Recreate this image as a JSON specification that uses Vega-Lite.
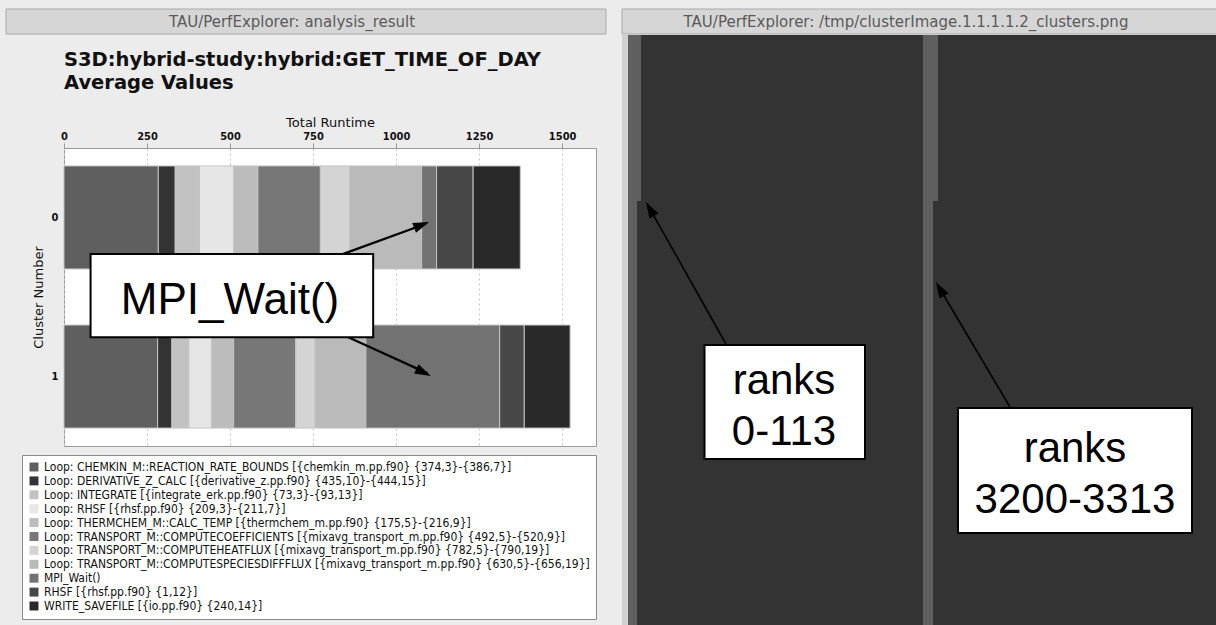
{
  "$schema": "https://vega.github.io/schema/vega-lite/v6.json",
  "background": "#ececec",
  "padding": {"left": 5, "top": 8, "right": 0, "bottom": 0},
  "config": {
    "font": "DejaVu Sans",
    "view": {"stroke": null}
  },
  "spacing": 14,
  "resolve": {"scale": {"color": "independent", "x": "independent", "y": "independent"}, "legend": {"color": "independent"}},
  "hconcat": [
    {
      "concat": [
        {
          "width": 542,
          "height": 25,
          "data": {"values": [{"t": "TAU/PerfExplorer: analysis_result", "x0": -58, "x1": 542, "xc": 228}]},
          "layer": [
            {
              "mark": {"type": "rect", "fill": "#d6d6d6", "stroke": "#a8a8a8", "strokeWidth": 1},
              "encoding": {
                "x": {"field": "x0", "type": "quantitative", "axis": null, "scale": {"domain": [0, 542], "nice": false, "zero": false}},
                "x2": {"field": "x1"}
              }
            },
            {
              "mark": {"type": "text", "font": "DejaVu Sans", "fontSize": 15, "color": "#5a5a5a", "baseline": "middle", "align": "center"},
              "encoding": {
                "x": {"field": "xc", "type": "quantitative", "axis": null},
                "text": {"field": "t"}
              }
            }
          ]
        },
        {
          "width": 532,
          "height": 298,
          "view": {"fill": "white", "stroke": "#9a9a9a"},
          "title": {
            "text": ["S3D:hybrid-study:hybrid:GET_TIME_OF_DAY", "Average Values"],
            "anchor": "start",
            "frame": "group",
            "font": "DejaVu Sans",
            "fontSize": 19.5,
            "fontWeight": "bold",
            "color": "#111111",
            "lineHeight": 23,
            "offset": 23
          },
          "layer": [
            {
              "data": {"values": [
                {"cluster": 0, "series": "Loop: CHEMKIN_M::REACTION_RATE_BOUNDS [{chemkin_m.pp.f90} {374,3}-{386,7}]", "time": 284},
                {"cluster": 0, "series": "Loop: DERIVATIVE_Z_CALC [{derivative_z.pp.f90} {435,10}-{444,15}]", "time": 51},
                {"cluster": 0, "series": "Loop: INTEGRATE [{integrate_erk.pp.f90} {73,3}-{93,13}]", "time": 73},
                {"cluster": 0, "series": "Loop: RHSF [{rhsf.pp.f90} {209,3}-{211,7}]", "time": 103},
                {"cluster": 0, "series": "Loop: THERMCHEM_M::CALC_TEMP [{thermchem_m.pp.f90} {175,5}-{216,9}]", "time": 73},
                {"cluster": 0, "series": "Loop: TRANSPORT_M::COMPUTECOEFFICIENTS [{mixavg_transport_m.pp.f90} {492,5}-{520,9}]", "time": 188},
                {"cluster": 0, "series": "Loop: TRANSPORT_M::COMPUTEHEATFLUX [{mixavg_transport_m.pp.f90} {782,5}-{790,19}]", "time": 88},
                {"cluster": 0, "series": "Loop: TRANSPORT_M::COMPUTESPECIESDIFFFLUX [{mixavg_transport_m.pp.f90} {630,5}-{656,19}]", "time": 217},
                {"cluster": 0, "series": "MPI_Wait()", "time": 45},
                {"cluster": 0, "series": "RHSF [{rhsf.pp.f90} {1,12}]", "time": 110},
                {"cluster": 0, "series": "WRITE_SAVEFILE [{io.pp.f90} {240,14}]", "time": 142},
                {"cluster": 1, "series": "Loop: CHEMKIN_M::REACTION_RATE_BOUNDS [{chemkin_m.pp.f90} {374,3}-{386,7}]", "time": 282},
                {"cluster": 1, "series": "Loop: DERIVATIVE_Z_CALC [{derivative_z.pp.f90} {435,10}-{444,15}]", "time": 43},
                {"cluster": 1, "series": "Loop: INTEGRATE [{integrate_erk.pp.f90} {73,3}-{93,13}]", "time": 51},
                {"cluster": 1, "series": "Loop: RHSF [{rhsf.pp.f90} {209,3}-{211,7}]", "time": 68},
                {"cluster": 1, "series": "Loop: THERMCHEM_M::CALC_TEMP [{thermchem_m.pp.f90} {175,5}-{216,9}]", "time": 67},
                {"cluster": 1, "series": "Loop: TRANSPORT_M::COMPUTECOEFFICIENTS [{mixavg_transport_m.pp.f90} {492,5}-{520,9}]", "time": 187},
                {"cluster": 1, "series": "Loop: TRANSPORT_M::COMPUTEHEATFLUX [{mixavg_transport_m.pp.f90} {782,5}-{790,19}]", "time": 58},
                {"cluster": 1, "series": "Loop: TRANSPORT_M::COMPUTESPECIESDIFFFLUX [{mixavg_transport_m.pp.f90} {630,5}-{656,19}]", "time": 153},
                {"cluster": 1, "series": "MPI_Wait()", "time": 403},
                {"cluster": 1, "series": "RHSF [{rhsf.pp.f90} {1,12}]", "time": 74},
                {"cluster": 1, "series": "WRITE_SAVEFILE [{io.pp.f90} {240,14}]", "time": 138}
              ]},
              "transform": [
                {"stack": "time", "groupby": ["cluster"], "sort": [{"field": "series", "order": "ascending"}], "as": ["t0", "t1"]}
              ],
              "mark": {"type": "bar", "orient": "horizontal", "height": 103, "stroke": "#c4c4c4", "strokeWidth": 1},
              "encoding": {
                "x": {
                  "field": "t0", "type": "quantitative", "title": "Total Runtime",
                  "scale": {"domain": [0, 1602], "nice": false, "zero": false},
                  "axis": {
                    "orient": "top", "values": [0, 250, 500, 750, 1000, 1250, 1500],
                    "format": "d", "grid": true, "gridColor": "#c8c8c8", "gridDash": [2, 3],
                    "domainColor": "#9a9a9a", "tickColor": "#9a9a9a", "tickSize": 5,
                    "labelFont": "DejaVu Sans Condensed", "labelFontWeight": "bold", "labelFontSize": 11, "labelColor": "#111",
                    "labelPadding": 2, "labelFlush": false,
                    "titleFont": "DejaVu Sans", "titleFontWeight": "normal", "titleFontSize": 13, "titleColor": "#111", "titlePadding": 1
                  }
                },
                "x2": {"field": "t1"},
                "y": {
                  "field": "cluster", "type": "quantitative", "title": "Cluster Number",
                  "scale": {"domain": [-0.405, 1.405], "nice": false, "zero": false, "reverse": true},
                  "axis": {
                    "values": [0, 1], "format": "d", "grid": false, "domain": false, "ticks": false,
                    "labelFont": "DejaVu Sans Condensed", "labelFontWeight": "bold", "labelFontSize": 11, "labelColor": "#111", "labelPadding": 6,
                    "titleFont": "DejaVu Sans", "titleFontWeight": "normal", "titleFontSize": 13, "titleColor": "#111", "titlePadding": 6
                  }
                },
                "color": {
                  "field": "series", "type": "nominal",
                  "scale": {"range": ["#5f5f5f", "#333333", "#c2c2c2", "#e6e6e6", "#bcbcbc", "#777777", "#d4d4d4", "#bababa", "#727272", "#474747", "#292929"]},
                  "legend": {
                    "orient": "none", "legendX": -42, "legendY": 307, "title": null,
                    "symbolType": "square", "symbolSize": 80, "symbolStrokeWidth": 0,
                    "labelFont": "DejaVu Sans Condensed", "labelFontSize": 12, "labelColor": "#111", "labelLimit": 600,
                    "rowPadding": 1.9, "padding": 6, "strokeColor": "#8a8a8a", "fillColor": "white"
                  }
                }
              }
            },
            {
              "data": {"values": [
                {"x": 841, "y": 0.229, "x2": 1090, "y2": 0.04},
                {"x": 856, "y": 0.753, "x2": 1095, "y2": 0.98}
              ]},
              "mark": {"type": "rule", "color": "black", "strokeWidth": 2.2},
              "encoding": {
                "x": {"field": "x", "type": "quantitative", "title": "Total Runtime"},
                "y": {"field": "y", "type": "quantitative", "title": "Cluster Number"},
                "x2": {"field": "x2"},
                "y2": {"field": "y2"}
              }
            },
            {
              "data": {"values": [{"x": 1077, "y": 0.047}]},
              "mark": {"type": "point", "shape": "M0,-1L0.65,1L-0.65,1Z", "filled": true, "color": "black", "opacity": 1, "size": 260, "angle": 69},
              "encoding": {
                "x": {"field": "x", "type": "quantitative", "title": "Total Runtime"},
                "y": {"field": "y", "type": "quantitative", "title": "Cluster Number"}
              }
            },
            {
              "data": {"values": [{"x": 1083, "y": 0.974}]},
              "mark": {"type": "point", "shape": "M0,-1L0.65,1L-0.65,1Z", "filled": true, "color": "black", "opacity": 1, "size": 260, "angle": 116},
              "encoding": {
                "x": {"field": "x", "type": "quantitative", "title": "Total Runtime"},
                "y": {"field": "y", "type": "quantitative", "title": "Cluster Number"}
              }
            },
            {
              "data": {"values": [{"label": "MPI_Wait()", "x0": 80, "x1": 931, "y0": 0.229, "y1": 0.753, "tx": 500, "ty": 0.607}]},
              "layer": [
                {
                  "mark": {"type": "rect", "fill": "white", "stroke": "black", "strokeWidth": 2},
                  "encoding": {
                    "x": {"field": "x0", "type": "quantitative", "title": "Total Runtime"},
                    "x2": {"field": "x1"},
                    "y": {"field": "y0", "type": "quantitative", "title": "Cluster Number"},
                    "y2": {"field": "y1"}
                  }
                },
                {
                  "mark": {"type": "text", "font": "Liberation Sans", "fontSize": 44, "color": "black", "align": "center", "baseline": "alphabetic"},
                  "encoding": {
                    "x": {"field": "tx", "type": "quantitative", "title": "Total Runtime"},
                    "y": {"field": "ty", "type": "quantitative", "title": "Cluster Number"},
                    "text": {"field": "label"}
                  }
                }
              ]
            }
          ]
        }
      ],
      "columns": 1,
      "align": "none",
      "spacing": 14,
      "resolve": {"scale": {"color": "independent", "x": "independent", "y": "independent"}, "legend": {"color": "independent"}}
    },
    {
      "concat": [
        {
          "width": 595,
          "height": 25,
          "data": {"values": [{"t": "TAU/PerfExplorer: /tmp/clusterImage.1.1.1.1.2_clusters.png", "x0": 0, "x1": 595, "xc": 284}]},
          "layer": [
            {
              "mark": {"type": "rect", "fill": "#d6d6d6", "stroke": "#a8a8a8", "strokeWidth": 1},
              "encoding": {
                "x": {"field": "x0", "type": "quantitative", "axis": null, "scale": {"domain": [0, 595], "nice": false, "zero": false}},
                "x2": {"field": "x1"}
              }
            },
            {
              "mark": {"type": "text", "font": "DejaVu Sans", "fontSize": 15, "color": "#5a5a5a", "baseline": "middle", "align": "center"},
              "encoding": {
                "x": {"field": "xc", "type": "quantitative", "axis": null},
                "text": {"field": "t"}
              }
            }
          ]
        },
        {
          "width": 595,
          "height": 592,
          "view": {"fill": "#d0d0d0", "stroke": null},
          "layer": [
            {
              "data": {"values": [
                {"cluster": "0", "c0": 0, "c1": 589, "r0": 0, "r1": 592},
                {"cluster": "1", "c0": 0, "c1": 13, "r0": 0, "r1": 166},
                {"cluster": "1", "c0": 0, "c1": 9, "r0": 166, "r1": 592},
                {"cluster": "1", "c0": 295, "c1": 310, "r0": 0, "r1": 166},
                {"cluster": "1", "c0": 295, "c1": 305, "r0": 166, "r1": 592}
              ]},
              "mark": {"type": "rect"},
              "encoding": {
                "x": {"field": "c0", "type": "quantitative", "axis": null, "scale": {"domain": [-6, 589], "nice": false, "zero": false}},
                "x2": {"field": "c1"},
                "y": {"field": "r0", "type": "quantitative", "axis": null, "scale": {"domain": [0, 592], "nice": false, "zero": false, "reverse": true}},
                "y2": {"field": "r1"},
                "color": {"field": "cluster", "type": "nominal", "scale": {"domain": ["0", "1"], "range": ["#333333", "#5f5f5f"]}, "legend": null}
              }
            },
            {
              "data": {"values": [
                {"c0": 98, "r0": 309, "c1": 22, "r1": 174},
                {"c0": 382, "r0": 372, "c1": 312, "r1": 254}
              ]},
              "mark": {"type": "rule", "color": "black", "strokeWidth": 1.6},
              "encoding": {
                "x": {"field": "c0", "type": "quantitative", "axis": null},
                "y": {"field": "r0", "type": "quantitative", "axis": null},
                "x2": {"field": "c1"},
                "y2": {"field": "r1"}
              }
            },
            {
              "data": {"values": [{"c": 22, "r": 174}]},
              "mark": {"type": "point", "shape": "M0,-1L0.65,1L-0.65,1Z", "filled": true, "color": "black", "opacity": 1, "size": 260, "angle": -29.5},
              "encoding": {
                "x": {"field": "c", "type": "quantitative", "axis": null},
                "y": {"field": "r", "type": "quantitative", "axis": null}
              }
            },
            {
              "data": {"values": [{"c": 312, "r": 254}]},
              "mark": {"type": "point", "shape": "M0,-1L0.65,1L-0.65,1Z", "filled": true, "color": "black", "opacity": 1, "size": 260, "angle": -30.7},
              "encoding": {
                "x": {"field": "c", "type": "quantitative", "axis": null},
                "y": {"field": "r", "type": "quantitative", "axis": null}
              }
            },
            {
              "data": {"values": [
                {"label": ["ranks", "0-113"], "c0": 76.5, "c1": 237, "r0": 310, "r1": 424, "tc": 156, "tr": 359},
                {"label": ["ranks", "3200-3313"], "c0": 330, "c1": 564, "r0": 373, "r1": 498, "tc": 447, "tr": 427}
              ]},
              "layer": [
                {
                  "mark": {"type": "rect", "fill": "white", "stroke": "black", "strokeWidth": 2},
                  "encoding": {
                    "x": {"field": "c0", "type": "quantitative", "axis": null},
                    "x2": {"field": "c1"},
                    "y": {"field": "r0", "type": "quantitative", "axis": null},
                    "y2": {"field": "r1"}
                  }
                },
                {
                  "mark": {"type": "text", "font": "Liberation Sans", "fontSize": 42, "lineHeight": 51, "color": "black", "align": "center", "baseline": "alphabetic"},
                  "encoding": {
                    "x": {"field": "tc", "type": "quantitative", "axis": null},
                    "y": {"field": "tr", "type": "quantitative", "axis": null},
                    "text": {"field": "label"}
                  }
                }
              ]
            }
          ]
        }
      ],
      "columns": 1,
      "align": "none",
      "spacing": 0
    }
  ]
}
